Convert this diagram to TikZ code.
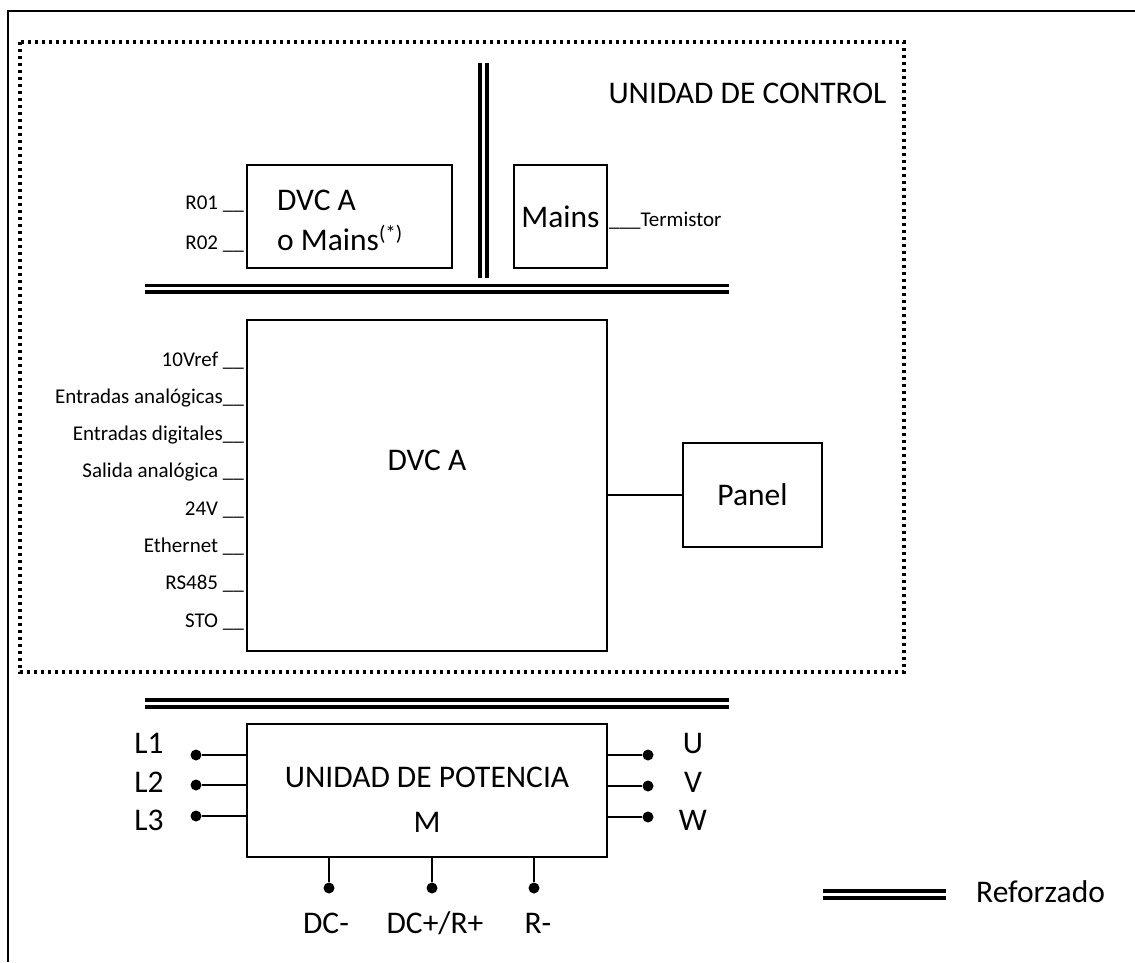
\documentclass[tikz,border=0pt]{standalone}
\usepackage{fontspec}
\setmainfont{Carlito}
\usetikzlibrary{positioning}

\begin{document}
\begin{tikzpicture}[
        x=1pt, y=-1pt,
        box/.style={draw, line width=1.8pt, inner sep=0pt},
        big/.style={font=\fontsize{31.5}{38}\selectfont},
        small/.style={font=\fontsize{21}{25}\selectfont, inner sep=0pt},
        pin/.style={circle, fill, inner sep=0pt, minimum size=11pt},
        wire/.style={line width=1.5pt},
        reinf/.style={line width=3.6pt},
        zone/.style={line width=3.4pt, dash pattern=on 3.4pt off 3.6pt},
    ]
    \useasboundingbox (0,0) rectangle (1135,962);
    % FRAME AND CONTROL ZONE
    \draw[line width=2pt] (8,962) -- (8,11) -- (1135,11);
    \draw[zone] (20,42) rectangle (904,672);
    \node[big, anchor=base east] (ctrl) at (890,103) {UNIDAD DE CONTROL};
    % REINFORCED INSULATION
    \foreach \yy in {285.5,292} \draw[reinf] (145,\yy) -- (729,\yy);
    \foreach \xx in {480,487} \draw[reinf] (\xx,63) -- (\xx,278);
    \foreach \yy in {700,707} \draw[reinf] (145,\yy) -- (729,\yy);
    % OPTION BOXES
    \node[box, minimum width=205pt, minimum height=103pt] (opt) at (349.5,216.5) {};
    \node[big, anchor=base west, inner sep=0pt] (optA) at (277,210) {DVC A};
    \node[big, anchor=base west, inner sep=0pt] (optB) at (277,250) {o Mains\raisebox{10pt}{\fontsize{21}{25}\selectfont(*)}};
    \node[small, anchor=base east] (r01) at (244,209) {R01 \_\_};
    \node[small, anchor=base east] (r02) at (244,249) {R02 \_\_};
    \node[box, big, minimum width=93pt, minimum height=103pt] (mains) at (560.5,216.5) {Mains};
    \node[small, anchor=base west] (termi) at (609,226) {\_\_\_Termistor};
    % CONTROL BOARD
    \node[box, minimum width=360pt, minimum height=331pt] (dvc) at (427,485.5) {};
    \node[big, anchor=base] (dvcl) at (427,470) {DVC A};
    \foreach \lbl [count=\i from 0] in {10Vref \_\_, Entradas analógicas\_\_, Entradas digitales\_\_, Salida analógica \_\_, 24V \_\_, Ethernet \_\_, RS485 \_\_, STO \_\_}
        \node[small, anchor=base east] (io\i) at (244,{366+37.3*\i}) {\lbl};
    \node[box, big, minimum width=139pt, minimum height=104pt] (panel) at (752.5,495) {Panel};
    \draw[wire] (dvc.east |- panel.west) -- (panel.west);
    % POWER UNIT
    \node[box, minimum width=360pt, minimum height=133pt] (pot) at (427,790.5) {};
    \node[big, anchor=base] (potl) at (427,787) {UNIDAD DE POTENCIA};
    \node[big, anchor=base] (potm) at (427,832) {M};
    \foreach \nm/\yy/\ly in {L1/755/753, L2/785/792, L3/816/830} {
        \node[pin] (\nm) at (196,\yy) {};
        \draw[wire] (\nm) -- (\nm -| pot.west);
        \node[big, anchor=base] (\nm t) at (149,\ly) {\nm};
    }
    \foreach \nm/\yy/\ly in {U/755/753, V/786/792, W/817/830} {
        \node[pin] (\nm) at (648,\yy) {};
        \draw[wire] (\nm -| pot.east) -- (\nm);
        \node[big, anchor=base] (\nm t) at (693,\ly) {\nm};
    }
    \foreach \nm/\xx/\lx/\txt in {dcm/329/326/{DC-}, dcp/432/435/{DC+/R+}, rm/534/538/{R-}} {
        \node[pin] (\nm) at (\xx,888) {};
        \draw[wire] (\nm |- pot.south) -- (\nm);
        \node[big, anchor=base] (\nm t) at (\lx,933) {\txt};
    }
    % LEGEND
    \foreach \yy in {891,898} \draw[reinf] (823,\yy) -- (946,\yy);
    \node[big, anchor=base west, inner sep=0pt] (legend) at (976,902) {Reforzado};
\end{tikzpicture}
\end{document}
